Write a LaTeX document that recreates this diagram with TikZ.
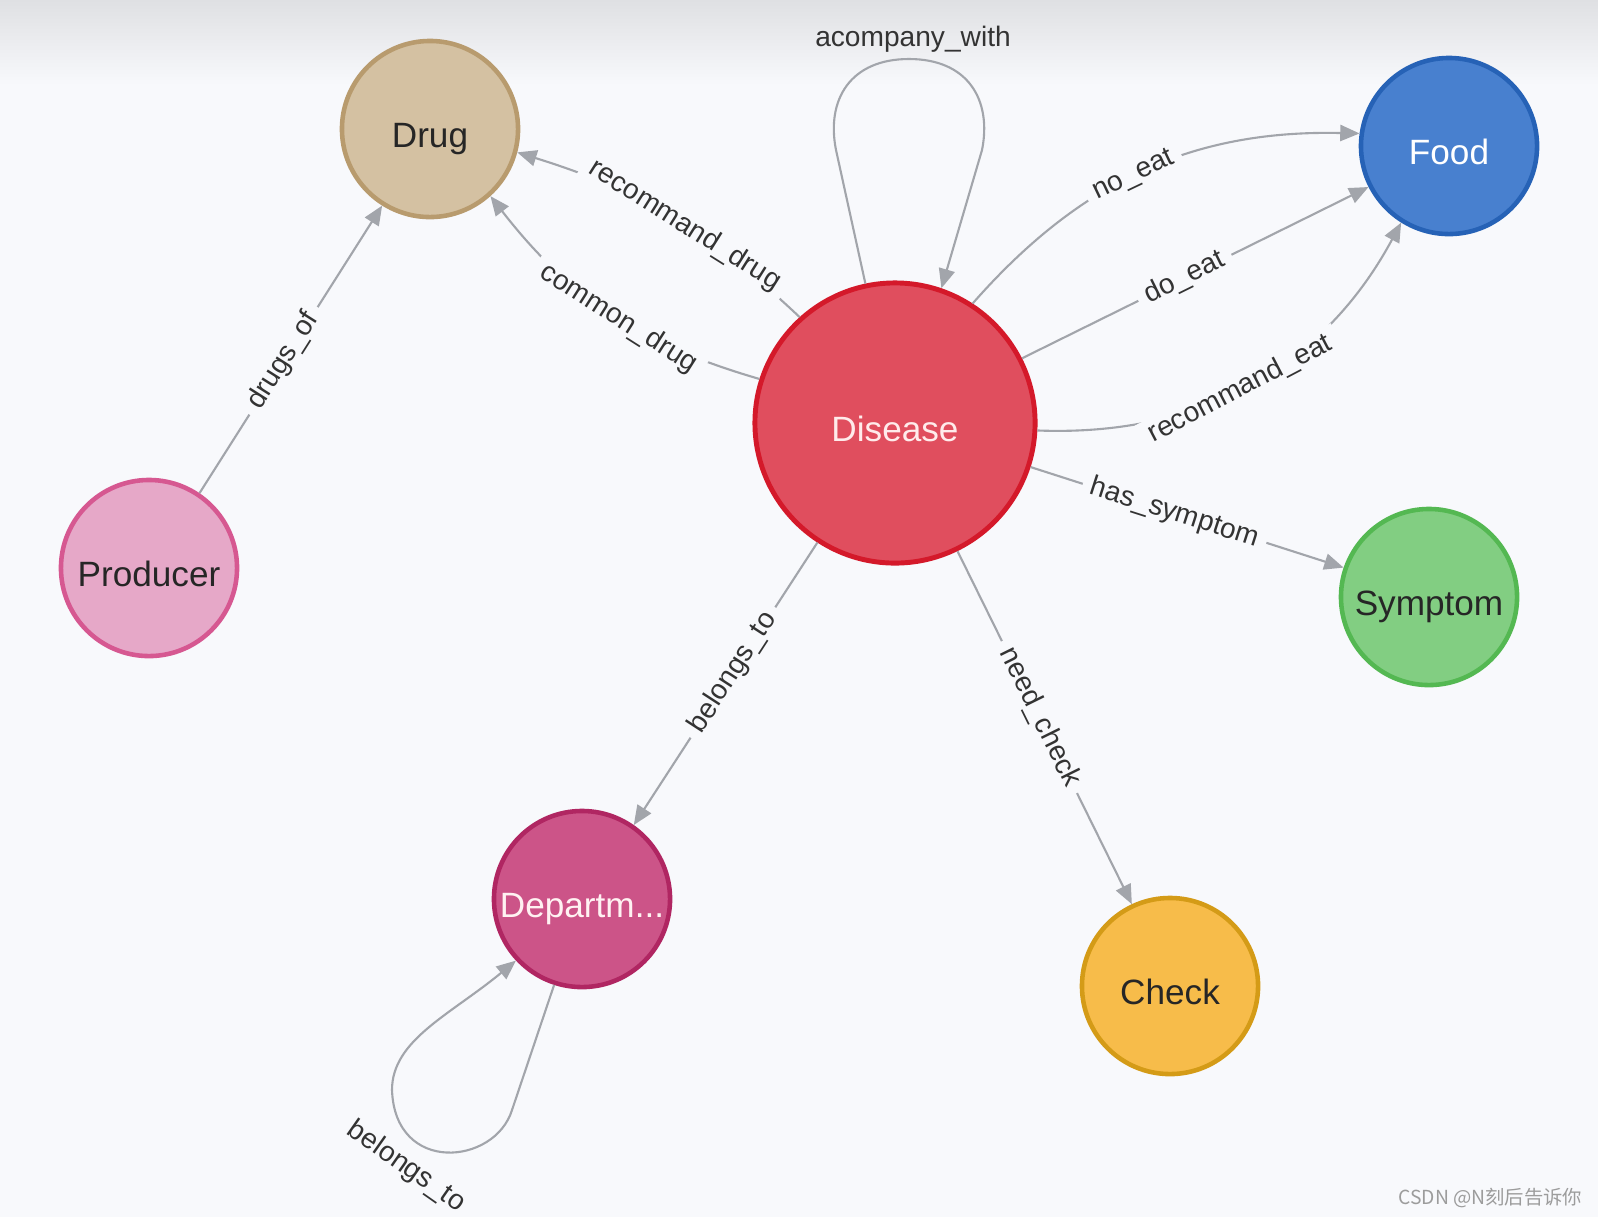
\documentclass[tikz,border=0pt]{standalone}
\usepackage{fontspec}
\setmainfont{Liberation Sans}
\newfontfamily\cjkfont{Noto Sans CJK SC}
\usetikzlibrary{arrows.meta}
\definecolor{bg}{HTML}{F8F9FC}
\definecolor{topgray}{HTML}{DFE0E3}
\definecolor{relgray}{HTML}{A2A5AB}
\definecolor{labeltext}{HTML}{333333}
\definecolor{wmgray}{HTML}{9C9C9C}
\tikzset{
  graphnode/.style = {circle, align=center, inner sep=0pt, line width=1.3pt,
    minimum size=1.76cm, text height=10.4pt, text depth=0pt,
    font=\fontsize{10}{12}\selectfont},
  drug_node/.style = {graphnode, fill={rgb,255:red,212;green,193;blue,162},
    draw={rgb,255:red,184;green,155;blue,110}, text=black!85},% medicament
  disease_node/.style = {graphnode, minimum size=2.8cm, line width=1.4pt,
    fill={rgb,255:red,224;green,78;blue,94},
    draw={rgb,255:red,212;green,25;blue,42}, text=white!92!red},% maladie
  food_node/.style = {graphnode, fill={rgb,255:red,72;green,128;blue,207},
    draw={rgb,255:red,38;green,98;blue,182}, text=white},% aliment
  producer_node/.style = {graphnode, fill={rgb,255:red,230;green,168;blue,200},
    draw={rgb,255:red,214;green,88;blue,145}, text=black!85},% producteur
  symptom_node/.style = {graphnode, fill={rgb,255:red,130;green,206;blue,130},
    draw={rgb,255:red,84;green,184;blue,82}, text=black!85},% symptome
  dept_node/.style = {graphnode, fill={rgb,255:red,204;green,84;blue,136},
    draw={rgb,255:red,176;green,38;blue,98}, text=white!95!red},% departement
  check_node/.style = {graphnode, fill={rgb,255:red,247;green,188;blue,74},
    draw={rgb,255:red,212;green,155;blue,23}, text=black!85},% examen
  rel/.style = {draw=relgray, line width=0.6pt,
    -{Triangle[length=5.5pt, width=4.6pt]}},% relation
  rel_label/.style = {sloped, fill=bg, inner xsep=2.5pt, inner ysep=1pt,
    text=labeltext, font=\fontsize{8}{9}\selectfont}% etiquette de relation
}
\begin{document}
\begin{tikzpicture}[x=0.01cm, y=-0.01cm]
  \fill[bg] (0,0) rectangle (1598,1217);
  \shade[top color=topgray, bottom color=bg] (0,0) rectangle (1598,85);
  \useasboundingbox (0,0) rectangle (1598,1217);

  \node [drug_node] (drug) at (430,129) {Drug};
  \node [disease_node] (dis) at (895,423) {Disease};
  \node [food_node] (food) at (1449,146) {Food};
  \node [producer_node] (prod) at (149,568) {Producer};
  \node [symptom_node] (sym) at (1429,597) {Symptom};
  \node [dept_node] (dept) at (582,899) {Departm...};
  \node [check_node] (check) at (1170,986) {Check};

  \draw[rel] (dis.132) to[bend right=13] node[rel_label, pos=0.44] {recommand\_drug} (drug.-15);
  \draw[rel] (dis.162) to[bend left=18] node[rel_label, pos=0.46] {common\_drug} (drug.-48);
  \draw[rel] (prod.56) -- node[rel_label, pos=0.46] {drugs\_of} (drug.238);
  \draw[rel] (dis.57) to[bend left=25] node[rel_label, pos=0.47] {no\_eat} (food.172);
  \draw[rel] (dis.27) -- node[rel_label, pos=0.47] {do\_eat} (food.207);
  \draw[rel] (dis.-3) to[bend right=32] node[rel_label, pos=0.47] {recommand\_eat} (food.238);
  \draw[rel] (dis.-18) -- node[rel_label, pos=0.46] {has\_symptom} (sym.161);
  \draw[rel] (dis.-64) -- node[rel_label, pos=0.47] {need\_check} (check.115);
  \draw[rel] (dis.237) -- node[rel_label, pos=0.46] {belongs\_to} (dept.55);

  % boucles
  \draw[rel] (dis.102) -- (836,150) .. controls (826,100) and (850,59) .. (909,59)
    .. controls (968,59) and (992,100) .. (982,150) -- (dis.71);
  \node [text=labeltext, font=\fontsize{8}{9}\selectfont] (acc) at (913,39) {acompany\_with};
  \draw[rel] (dept.252) -- (512,1110) .. controls (495,1165) and (395,1175) .. (392,1090)
    .. controls (392,1040) and (450,1015) .. (dept.223);
  \node [text=labeltext, rotate=-35, font=\fontsize{8}{9}\selectfont] (bel) at (406,1167) {belongs\_to};

  \node [anchor=east, inner sep=0pt, text=wmgray, font=\cjkfont\fontsize{5.5}{6.5}\selectfont]
    (mark) at (1583,1198) {CSDN @N刻后告诉你};
\end{tikzpicture}
\end{document}
